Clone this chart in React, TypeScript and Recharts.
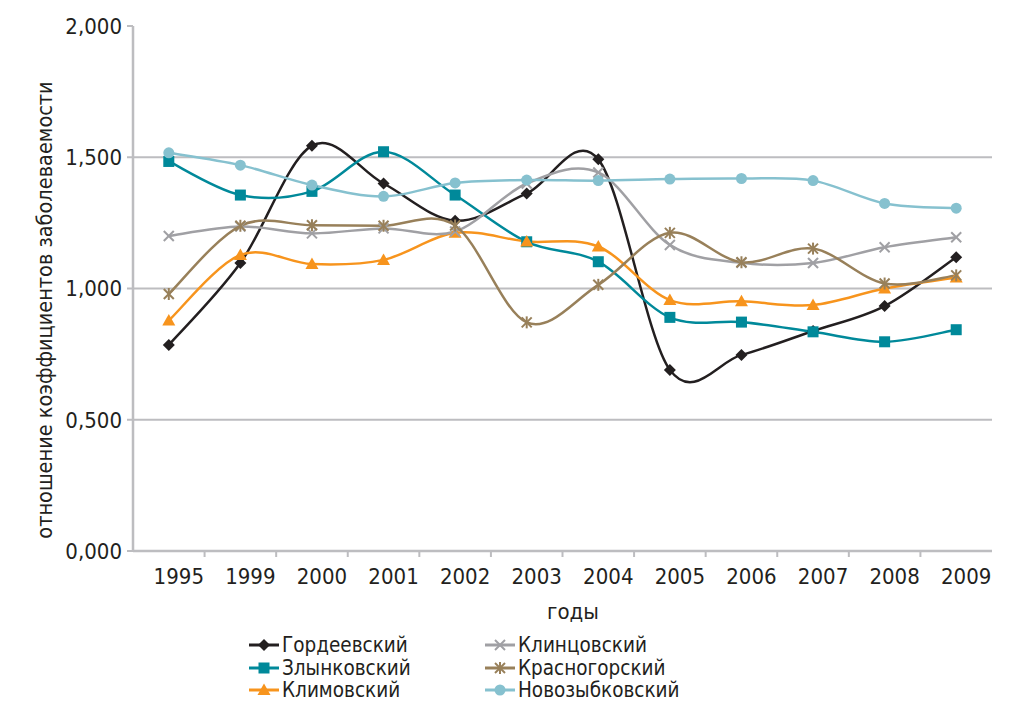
import React from 'react';
import { LineChart, Line, XAxis, YAxis, CartesianGrid, Legend } from 'recharts';

const years = ['1995', '1999', '2000', '2001', '2002', '2003', '2004', '2005', '2006', '2007', '2008', '2009'];
const gordeevsky = [0.785, 1.097, 1.544, 1.4, 1.258, 1.362, 1.492, 0.69, 0.747, 0.838, 0.933, 1.119];
const zlynkovsky = [1.484, 1.356, 1.37, 1.521, 1.356, 1.178, 1.102, 0.89, 0.872, 0.835, 0.797, 0.843];
const klimovsky = [0.878, 1.128, 1.093, 1.109, 1.212, 1.179, 1.16, 0.956, 0.951, 0.937, 1.0, 1.042];
const klintsovsky = [1.2, 1.236, 1.21, 1.229, 1.217, 1.4, 1.442, 1.166, 1.098, 1.097, 1.157, 1.195];
const krasnogorsky = [0.979, 1.239, 1.241, 1.239, 1.24, 0.871, 1.014, 1.212, 1.1, 1.152, 1.019, 1.05];
const novozybkovsky = [1.517, 1.47, 1.394, 1.351, 1.402, 1.413, 1.411, 1.417, 1.419, 1.411, 1.324, 1.306];
const yTicks = [0, 0.5, 1, 1.5, 2];
const gridValues = [0.5, 1, 1.5];

type Shape = 'diamond' | 'square' | 'triangle' | 'x' | 'star' | 'circle';
const seriesDefs: { key: string; name: string; values: number[]; color: string; shape: Shape }[] = [
  { key: 'g', name: 'Гордеевский', values: gordeevsky, color: '#231f20', shape: 'diamond' },
  { key: 'z', name: 'Злынковский', values: zlynkovsky, color: '#00899a', shape: 'square' },
  { key: 'km', name: 'Климовский', values: klimovsky, color: '#f7941d', shape: 'triangle' },
  { key: 'kl', name: 'Клинцовский', values: klintsovsky, color: '#a0a0a4', shape: 'x' },
  { key: 'kr', name: 'Красногорский', values: krasnogorsky, color: '#98805a', shape: 'star' },
  { key: 'n', name: 'Новозыбковский', values: novozybkovsky, color: '#86c1cf', shape: 'circle' },
];

const data = years.map((y, i) => {
  const row: Record<string, number | string> = { year: y };
  seriesDefs.forEach((s) => {
    row[s.key] = s.values[i];
  });
  return row;
});

const FONT = '"Liberation Sans Narrow", "DejaVu Sans Condensed", "Noto Sans", sans-serif';
const TEXT = '#231f20';
const AXIS = '#bdbdc0';
const BAND = (1021 - 133 - 29) / 12;

// Excel-like smooth curve (Catmull-Rom style bezier)
function smoothCurve(context: any) {
  let pts: [number, number][] = [];
  return {
    areaStart() {},
    areaEnd() {},
    lineStart() {
      pts = [];
    },
    lineEnd() {
      if (!pts.length) return;
      context.moveTo(pts[0][0], pts[0][1]);
      for (let i = 0; i < pts.length - 1; i++) {
        const p0 = pts[i - 1] || pts[i];
        const p1 = pts[i];
        const p2 = pts[i + 1];
        const p3 = pts[i + 2] || pts[i + 1];
        const c1x = p1[0] + (p2[0] - p0[0]) / 6;
        const c1y = p1[1] + (p2[1] - p0[1]) / 6;
        const c2x = p2[0] - (p3[0] - p1[0]) / 6;
        const c2y = p2[1] - (p3[1] - p1[1]) / 6;
        context.bezierCurveTo(c1x, c1y, c2x, c2y, p2[0], p2[1]);
      }
    },
    point(x: number, y: number) {
      pts.push([+x, +y]);
    },
  };
}

function Marker({ shape, color, cx, cy }: { shape: Shape; color: string; cx: number; cy: number }) {
  switch (shape) {
    case 'diamond':
      return <polygon points={`${cx},${cy - 6} ${cx + 6},${cy} ${cx},${cy + 6} ${cx - 6},${cy}`} fill={color} />;
    case 'square':
      return <rect x={cx - 5.5} y={cy - 5.5} width={11} height={11} fill={color} />;
    case 'triangle':
      return <polygon points={`${cx},${cy - 6.5} ${cx + 6.5},${cy + 5} ${cx - 6.5},${cy + 5}`} fill={color} />;
    case 'x':
      return (
        <g stroke={color} strokeWidth={2}>
          <line x1={cx - 5} y1={cy - 5} x2={cx + 5} y2={cy + 5} />
          <line x1={cx - 5} y1={cy + 5} x2={cx + 5} y2={cy - 5} />
        </g>
      );
    case 'star':
      return (
        <g stroke={color} strokeWidth={2}>
          <line x1={cx - 5} y1={cy - 5} x2={cx + 5} y2={cy + 5} />
          <line x1={cx - 5} y1={cy + 5} x2={cx + 5} y2={cy - 5} />
          <line x1={cx} y1={cy - 6} x2={cx} y2={cy + 6} />
        </g>
      );
    default:
      return <circle cx={cx} cy={cy} r={5.5} fill={color} />;
  }
}

const makeDot = (shape: Shape, color: string) => (props: any) => {
  const { cx, cy, index } = props;
  if (cx == null || cy == null) return <g key={`d-${index}`} />;
  return (
    <g key={`d-${shape}-${index}`}>
      <Marker shape={shape} color={color} cx={cx} cy={cy} />
    </g>
  );
};

const XTick = (props: any) => {
  const { x, y, payload, index } = props;
  return (
    <g>
      <text x={x + 10} y={y + 33} textAnchor="middle" fontSize={22} fill={TEXT} fontFamily={FONT}>
        {payload.value}
      </text>
      {index < years.length - 1 && (
        <line x1={x + BAND / 2} y1={y} x2={x + BAND / 2} y2={y + 6} stroke={AXIS} strokeWidth={2} />
      )}
    </g>
  );
};

const LegendContent = () => {
  const cols = [seriesDefs.slice(0, 3), seriesDefs.slice(3)];
  return (
    <div style={{ display: 'flex', fontFamily: FONT, fontSize: 20.5, color: TEXT, lineHeight: '22.5px' }}>
      {cols.map((col, ci) => (
        <div key={ci} style={{ width: ci === 0 ? 236 : 240 }}>
          {col.map((s) => (
            <div key={s.key} style={{ display: 'flex', alignItems: 'center', height: 22.5 }}>
              <svg width={32} height={14} style={{ marginRight: 2 }}>
                <line x1={1} y1={7} x2={31} y2={7} stroke={s.color} strokeWidth={3} />
                <Marker shape={s.shape} color={s.color} cx={16} cy={7} />
              </svg>
              <span>{s.name}</span>
            </div>
          ))}
        </div>
      ))}
    </div>
  );
};

export default function App() {
  return (
    <div style={{ position: 'absolute', left: 0, top: 0, background: '#fff' }}>
      <LineChart width={1021} height={704} data={data} margin={{ top: 26, right: 29, left: 0, bottom: 123 }}>
        <CartesianGrid vertical={false} horizontalValues={gridValues} stroke={AXIS} strokeWidth={2} />
        <XAxis
          dataKey="year"
          scale="band"
          height={30}
          tickLine={false}
          tickSize={0}
          tickMargin={0}
          interval={0}
          axisLine={{ stroke: AXIS, strokeWidth: 2.5 }}
          tick={<XTick />}
          label={{
            content: () => (
              <text x={573} y={619} textAnchor="middle" fontSize={22} fill={TEXT} fontFamily={FONT}>
                годы
              </text>
            ),
          }}
        />
        <YAxis
          width={133}
          domain={[0, 2]}
          ticks={yTicks}
          interval={0}
          tickSize={6}
          tickMargin={5}
          tickFormatter={(v: number) => v.toFixed(3).replace('.', ',')}
          tick={{ fontSize: 22, fill: TEXT, fontFamily: FONT }}
          tickLine={{ stroke: AXIS, strokeWidth: 2 }}
          axisLine={{ stroke: AXIS, strokeWidth: 2.5 }}
          label={{
            content: () => (
              <text
                x={0}
                y={0}
                transform="translate(52,310) rotate(-90)"
                textAnchor="middle"
                fontSize={21.5}
                fill={TEXT}
                fontFamily={FONT}
              >
                отношение коэффициентов заболеваемости
              </text>
            ),
          }}
        />
        <Legend
          layout="horizontal"
          verticalAlign="middle"
          align="center"
          wrapperStyle={{ top: 634, left: 248, width: 480, height: 70 }}
          content={<LegendContent />}
        />
        {seriesDefs.map((s) => (
          <Line
            key={s.key}
            dataKey={s.key}
            name={s.name}
            type={smoothCurve as any}
            stroke={s.color}
            strokeWidth={2.5}
            dot={makeDot(s.shape, s.color)}
            activeDot={false}
            isAnimationActive={false}
          />
        ))}
      </LineChart>
    </div>
  );
}
